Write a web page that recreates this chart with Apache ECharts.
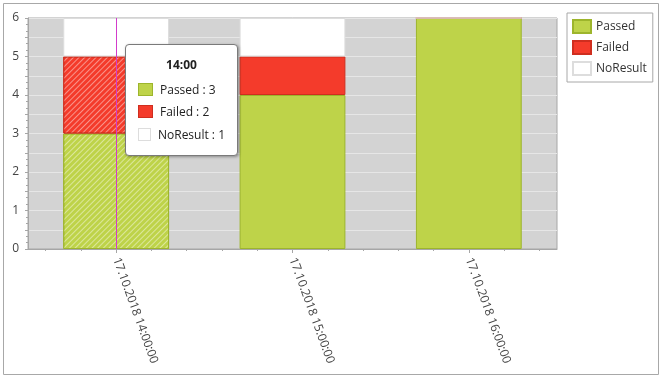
<!DOCTYPE html>
<html>
<head>
<meta charset="utf-8">
<script src="https://cdn.jsdelivr.net/npm/echarts@6/dist/echarts.min.js"></script>
<style>
html,body{margin:0;padding:0;background:#fff;}
#c{width:662px;height:381px;}
</style>
</head>
<body>
<div id="c"></div>
<script>
// ---- data ----
var categories = ['17.10.2018 14:00:00', '17.10.2018 15:00:00', '17.10.2018 16:00:00'];
var passed   = [3, 4, 6];
var failed   = [2, 1, 0];
var noResult = [1, 1, 0];
var seriesNames = ['Passed', 'Failed', 'NoResult'];
var yTicks = [0, 1, 2, 3, 4, 5, 6];
var hoveredIndex = 0;

// ---- styles ----
var FONT = "'Open Sans', 'Noto Sans', sans-serif";
var fills   = ['#bed349', '#f43b2b', '#ffffff'];
var borders = ['#9db52c', '#cf2e1f', '#dddddd'];
var hatch = {
  color: 'rgba(255,255,255,0.45)',
  symbol: 'rect',
  symbolSize: 1,
  dashArrayX: [1, 0],
  dashArrayY: [1, 3],
  rotation: -Math.PI / 4
};

function mkData(values, si) {
  return values.map(function (v, i) {
    if (i === hoveredIndex && si < 2) {
      return { value: v, itemStyle: { decal: hatch } };
    }
    return v;
  });
}

var valuesBySeries = [passed, failed, noResult];
var series = seriesNames.map(function (name, si) {
  var s = {
    name: name,
    type: 'bar',
    stack: 'total',
    barCategoryGap: '40%',
    xAxisIndex: 0,
    itemStyle: { color: fills[si], borderColor: borders[si], borderWidth: 1 },
    emphasis: { disabled: true },
    data: mkData(valuesBySeries[si], si)
  };
  if (si === 2) {
    s.markLine = {
      silent: true,
      symbol: ['none', 'none'],
      label: { show: false },
      lineStyle: { color: '#d23ccb', width: 1, type: 'solid' },
      data: [{ xAxis: categories[hoveredIndex] }],
      z: 10
    };
  }
  return s;
});

var minorCats = [];
for (var k = 0; k < categories.length * 5; k++) minorCats.push('');

var chart = echarts.init(document.getElementById('c'), null, { renderer: 'canvas' });
chart.setOption({
  animation: false,
  textStyle: { fontFamily: FONT },
  graphic: [{
    type: 'rect',
    shape: { x: 3.5, y: 3.5, width: 655, height: 371 },
    style: { fill: 'none', stroke: '#a8a8a8', lineWidth: 1 },
    silent: true
  }],
  grid: {
    left: 28, top: 18, right: 105, bottom: 132,
    show: true, backgroundColor: '#d3d3d3', borderColor: '#a6a6a6', borderWidth: 1
  },
  legend: {
    orient: 'vertical',
    left: 567, top: 13,
    padding: [6, 6, 6, 5],
    itemWidth: 18, itemHeight: 13, itemGap: 6,
    borderColor: '#a8a8a8', borderWidth: 1, borderRadius: 0,
    backgroundColor: '#fff',
    selectedMode: false,
    textStyle: { fontFamily: FONT, fontSize: 12, color: '#333' },
    data: seriesNames.map(function (n) { return { name: n, icon: 'rect' }; })
  },
  tooltip: {
    trigger: 'axis',
    triggerOn: 'none',
    alwaysShowContent: true,
    transitionDuration: 0,
    backgroundColor: '#fff',
    borderColor: '#7a7a7a',
    borderWidth: 1,
    padding: [10, 12, 9, 12],
    extraCssText: 'border-radius:4px;box-shadow:1px 1px 3px rgba(0,0,0,0.35);',
    position: function () { return [125, 44]; },
    axisPointer: { type: 'none' },
    formatter: function (params) {
      var idx = params[0].dataIndex;
      var t = categories[idx].slice(11, 16);
      var h = '<div style="font-family:' + FONT.replace(/'/g, '') + ';font-size:12px;color:#222;width:87px;">';
      h += '<div style="text-align:center;font-weight:bold;height:20px;line-height:20px;margin-bottom:3px;">' + t + '</div>';
      params.forEach(function (p) {
        var si = p.seriesIndex;
        h += '<div style="height:22.5px;display:flex;align-items:center;">' +
          '<span style="display:inline-block;box-sizing:border-box;width:15px;height:13px;background:' + fills[si] +
          ';border:1px solid ' + borders[si] + ';margin-right:7px;"></span>' +
          p.seriesName + ' : ' + p.value + '</div>';
      });
      return h + '</div>';
    }
  },
  xAxis: [{
    type: 'category',
    data: categories,
    position: 'bottom',
    axisLine: { show: true, lineStyle: { color: '#a6a6a6' } },
    axisTick: { show: true, alignWithLabel: true, length: 4, lineStyle: { color: '#a6a6a6' } },
    axisLabel: { rotate: -70, margin: 9, fontSize: 12, color: '#444', fontFamily: FONT },
    splitLine: { show: false }
  }, {
    type: 'category',
    data: minorCats,
    position: 'bottom',
    axisLine: { show: false },
    axisTick: { show: true, alignWithLabel: true, length: 2, lineStyle: { color: '#a6a6a6' } },
    axisLabel: { show: false },
    splitLine: { show: false },
    axisPointer: { show: false }
  }],
  yAxis: {
    type: 'value',
    min: yTicks[0],
    max: yTicks[yTicks.length - 1],
    interval: 0.5,
    axisLine: { show: true, lineStyle: { color: '#a6a6a6' } },
    axisTick: { show: true, length: 3, lineStyle: { color: '#a6a6a6' } },
    minorTick: { show: true, splitNumber: 3, length: 2, lineStyle: { color: '#a6a6a6' } },
    axisLabel: {
      margin: 9, fontSize: 12, color: '#444', fontFamily: FONT,
      formatter: function (v) { return yTicks.indexOf(v) >= 0 ? String(v) : ''; }
    },
    splitLine: { show: true, lineStyle: { color: '#e6e6e6', width: 1 } }
  },
  series: series
});
chart.dispatchAction({ type: 'showTip', seriesIndex: 0, dataIndex: hoveredIndex });
</script>
</body>
</html>
